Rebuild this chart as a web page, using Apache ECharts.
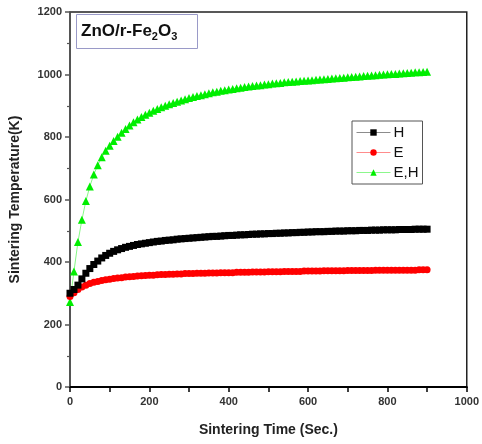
<!DOCTYPE html>
<html>
<head>
<meta charset="utf-8">
<script src="https://cdn.jsdelivr.net/npm/echarts@6/dist/echarts.min.js"></script>
<style>
html,body{margin:0;padding:0;background:#fff;}
#main{width:482px;height:444px;}
</style>
</head>
<body>
<div id="main"></div>
<script>
// 采样时间 (Sec.)
var times = [0,10,20,30,40,50,60,70,80,90,
	100,110,120,130,140,150,160,170,180,190,
	200,210,220,230,240,250,260,270,280,290,
	300,310,320,330,340,350,360,370,380,390,
	400,410,420,430,440,450,460,470,480,490,
	500,510,520,530,540,550,560,570,580,590,
	600,610,620,630,640,650,660,670,680,690,
	700,710,720,730,740,750,760,770,780,790,
	800,810,820,830,840,850,860,870,880,890,900];

// H
var tempH = [300,312,326,346,364,379,392,403,413,421,
	428,434,439,443,447,450,453,456,458,460,
	462,464,466,467,469,470,471,473,474,475,
	476,477,478,479,480,481,482,482,483,484,
	485,485,486,487,487,488,489,489,490,490,
	491,491,492,492,493,493,494,494,495,495,
	496,496,497,497,497,498,498,499,499,499,
	500,500,500,501,501,501,502,502,502,503,
	503,503,503,504,504,504,504,505,505,505,505];

// E
var tempE = [290,302,312,320,326,331,335,338,341,343,
	345,347,349,350,352,353,354,355,356,357,
	358,358,359,360,360,361,361,362,362,363,
	363,363,364,364,364,365,365,365,366,366,
	366,366,367,367,367,367,368,368,368,368,
	369,369,369,369,370,370,370,370,370,371,
	371,371,371,371,372,372,372,372,372,372,
	373,373,373,373,373,373,373,374,374,374,
	374,374,374,374,374,374,374,374,375,375,375];

// E,H
var tempEH = [272,370,464,535,595,642,680,710,735,756,
	772,787,801,814,826,837,847,856,864,871,
	878,884,890,895,900,905,909,913,917,921,
	925,928,931,934,937,940,943,945,948,950,
	952,954,956,958,960,962,963,965,966,968,
	969,971,972,973,975,976,977,978,979,980,
	981,982,983,984,985,986,987,988,989,990,
	991,992,993,994,995,996,997,998,999,1000,
	1001,1002,1002,1003,1004,1005,1006,1007,1007,1008,1009];

var seriesNames = ['H','E','E,H'];
var seriesColors = ['#000000','#ff0000','#00ee00'];
var seriesSymbols = ['rect','circle','triangle'];
var seriesSizes = [7,7,8];
var seriesData = [tempH,tempE,tempEH];

function pairs(arr){
	var out = [];
	for(var i=0;i<arr.length;i++){
		out.push([times[i],arr[i]]);
	}
	return out;
}

var font = '"Liberation Sans", Arial, sans-serif';
var series = [];
for(var k=0;k<seriesNames.length;k++){
	series.push({
		name:seriesNames[k],
		type:'line',
		data:pairs(seriesData[k]),
		symbol:seriesSymbols[k],
		symbolSize:seriesSizes[k],
		showAllSymbol:true,
		itemStyle:{color:seriesColors[k]},
		lineStyle:{color:seriesColors[k],width:0.8,opacity:0.6},
		animation:false,
		z:3-k
	});
}

var chart = echarts.init(document.getElementById('main'));
var option = {
	backgroundColor:'#fff',
	title:{
		text:'{a|ZnO/r-Fe}{s|2}{a|O}{s|3}',
		left:76,
		top:12,
		padding:[8,20,7,5],
		borderColor:'#9a9ac8',
		borderWidth:1,
		textStyle:{
			rich:{
				a:{fontFamily:font,fontWeight:'bold',fontSize:17,color:'#111'},
				s:{fontFamily:font,fontWeight:'bold',fontSize:11,color:'#111',padding:[11,0,0,0]}
			}
		}
	},
	legend:{
		data:seriesNames,
		orient:'vertical',
		left:352,
		top:121,
		borderColor:'#555',
		borderWidth:1,
		padding:[4,4,4,4],
		itemGap:5,
		itemWidth:34,
		itemHeight:8,
		lineStyle:{width:1,opacity:0.45},
		textStyle:{fontFamily:font,fontSize:15,color:'#111',padding:[0,0,0,-2]}
	},
	grid:{
		left:69,
		right:13,
		top:12,
		bottom:57,
		show:true,
		borderColor:'#222',
		borderWidth:1.5
	},
	xAxis:{
		type:'value',
		min:0,
		max:1000,
		interval:200,
		name:'Sintering Time (Sec.)',
		nameLocation:'middle',
		nameGap:36,
		nameTextStyle:{fontFamily:font,fontWeight:'bold',fontSize:14,color:'#222'},
		axisLine:{lineStyle:{color:'#000',width:2}},
		axisTick:{inside:false,length:5,lineStyle:{color:'#000',width:1.5}},
		minorTick:{show:true,splitNumber:2,length:5,lineStyle:{color:'#000',width:1.5}},
		axisLabel:{fontFamily:font,fontWeight:'bold',fontSize:11,color:'#333',margin:9,
			formatter:function(v){return String(v);}},
		splitLine:{show:false}
	},
	yAxis:{
		type:'value',
		min:0,
		max:1200,
		interval:200,
		name:'Sintering Temperature(K)',
		nameLocation:'middle',
		nameGap:48,
		nameTextStyle:{fontFamily:font,fontWeight:'bold',fontSize:14,color:'#222'},
		axisLine:{show:true,lineStyle:{color:'#555',width:1.5}},
		axisTick:{show:true,inside:false,length:5,lineStyle:{color:'#555',width:1.5}},
		minorTick:{show:true,splitNumber:2,length:3,lineStyle:{color:'#555',width:1.2}},
		axisLabel:{fontFamily:font,fontWeight:'bold',fontSize:11,color:'#333',margin:8,
			formatter:function(v){return String(v);}},
		splitLine:{show:false}
	},
	series:series
};
chart.setOption(option);
</script>
</body>
</html>
